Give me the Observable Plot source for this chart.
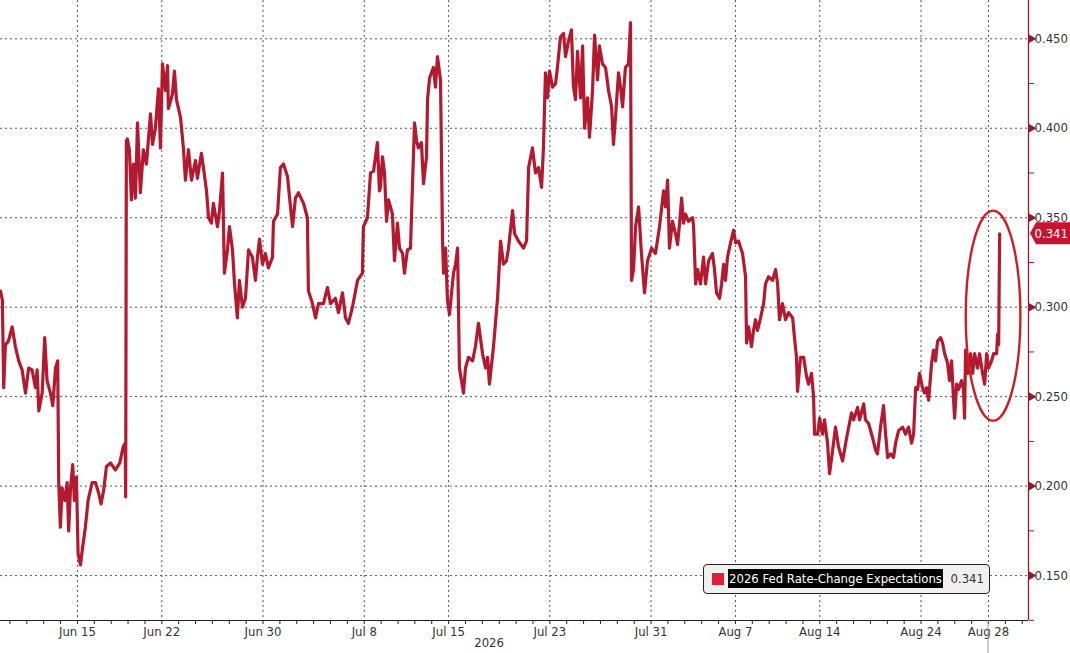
<!DOCTYPE html>
<html><head><meta charset="utf-8">
<script src="https://cdn.jsdelivr.net/npm/d3@7"></script>
<script src="https://cdn.jsdelivr.net/npm/@observablehq/plot@0.6"></script>
<style>
body{margin:0;background:#fff;font-family:"DejaVu Sans Condensed","Liberation Sans",sans-serif}
#wrap{position:relative;width:1070px;height:653px;overflow:hidden}
#legend{position:absolute;left:703px;top:564px;width:287px;height:30px;background:#f0f0f0;border:1px solid #222;border-radius:4px;box-sizing:border-box;font-size:13px;color:#333;font-family:"DejaVu Sans Condensed","Liberation Sans",sans-serif}
#legend .sw{position:absolute;left:8px;top:8px;width:12px;height:12px;background:#e0203a}
#legend .nm{position:absolute;left:24px;top:4px;height:19px;line-height:19px;background:#000;color:#fff;padding:0 1px;white-space:nowrap}
#legend .val{position:absolute;right:5px;top:4px;line-height:19px}
</style></head>
<body><div id="wrap"></div>
<script>
// business-day index (0 = Jun 15, 2026) and value of the 2026 Fed rate-change expectation
const series = [
[-4.56,0.309],[-4.45,0.304],[-4.37,0.255],[-4.27,0.279],[-4.09,0.281],[-3.87,0.289],[-3.68,0.278],[-3.48,0.270],[-3.28,0.265],[-3.08,0.252],
[-2.89,0.266],[-2.69,0.265],[-2.49,0.255],[-2.39,0.265],[-2.29,0.242],[-2.09,0.252],[-1.94,0.283],[-1.80,0.259],[-1.60,0.252],[-1.46,0.245],
[-1.30,0.266],[-1.17,0.270],[-1.11,0.202],[-1.01,0.177],[-0.91,0.199],[-0.75,0.192],[-0.61,0.202],[-0.52,0.175],[-0.41,0.199],[-0.28,0.212],
[-0.18,0.192],[-0.06,0.205],[0.04,0.162],[0.18,0.156],[0.31,0.166],[0.47,0.177],[0.63,0.192],[0.87,0.202],[1.07,0.202],[1.26,0.196],
[1.40,0.190],[1.56,0.198],[1.72,0.211],[1.96,0.213],[2.25,0.209],[2.51,0.213],[2.71,0.222],[2.83,0.224],[2.86,0.194],[2.90,0.393],
[2.96,0.394],[3.08,0.388],[3.20,0.360],[3.32,0.380],[3.44,0.361],[3.56,0.403],[3.73,0.364],[3.91,0.388],[4.09,0.380],[4.33,0.408],
[4.45,0.391],[4.62,0.400],[4.80,0.422],[4.92,0.389],[5.04,0.436],[5.22,0.421],[5.34,0.435],[5.39,0.411],[5.63,0.419],[5.75,0.432],
[5.87,0.416],[6.11,0.406],[6.28,0.389],[6.40,0.371],[6.58,0.388],[6.76,0.371],[7.00,0.382],[7.11,0.372],[7.35,0.386],[7.47,0.378],
[7.65,0.365],[7.77,0.350],[7.94,0.347],[8.06,0.358],[8.30,0.345],[8.42,0.354],[8.60,0.375],[8.71,0.319],[8.89,0.332],[9.01,0.345],
[9.19,0.332],[9.31,0.313],[9.48,0.294],[9.60,0.315],[9.78,0.300],[9.96,0.305],[10.14,0.332],[10.37,0.328],[10.55,0.315],[10.67,0.328],
[10.79,0.338],[10.97,0.324],[11.14,0.330],[11.32,0.322],[11.56,0.328],[11.62,0.348],[11.86,0.352],[12.03,0.378],[12.21,0.380],[12.45,0.373],
[12.63,0.356],[12.75,0.345],[12.92,0.361],[13.10,0.364],[13.40,0.358],[13.63,0.350],[13.69,0.309],[13.93,0.302],[14.11,0.294],[14.29,0.302],
[14.58,0.302],[14.82,0.311],[15.00,0.302],[15.29,0.305],[15.47,0.297],[15.71,0.308],[15.89,0.294],[16.06,0.291],[16.30,0.300],[16.60,0.315],
[16.89,0.319],[16.95,0.345],[17.19,0.350],[17.37,0.375],[17.55,0.376],[17.78,0.392],[17.90,0.365],[17.96,0.367],[18.08,0.384],[18.20,0.375],
[18.32,0.348],[18.44,0.360],[18.67,0.352],[18.79,0.326],[18.97,0.347],[19.09,0.333],[19.27,0.330],[19.38,0.319],[19.56,0.332],[19.74,0.333],
[19.86,0.369],[19.98,0.403],[20.10,0.393],[20.21,0.389],[20.39,0.392],[20.51,0.369],[20.69,0.384],[20.75,0.416],[20.87,0.428],[21.10,0.434],
[21.22,0.423],[21.34,0.440],[21.52,0.427],[21.64,0.337],[21.70,0.319],[21.82,0.333],[21.93,0.304],[22.05,0.296],[22.29,0.319],[22.41,0.324],
[22.53,0.333],[22.64,0.266],[22.88,0.252],[23.00,0.266],[23.18,0.272],[23.42,0.270],[23.59,0.278],[23.77,0.291],[24.01,0.274],[24.19,0.266],
[24.31,0.272],[24.42,0.257],[24.66,0.278],[24.90,0.305],[25.08,0.337],[25.25,0.324],[25.43,0.326],[25.55,0.333],[25.79,0.354],[25.91,0.341],
[26.14,0.337],[26.44,0.333],[26.62,0.337],[26.74,0.378],[26.97,0.389],[27.15,0.375],[27.33,0.378],[27.51,0.367],[27.62,0.389],[27.74,0.431],
[27.86,0.417],[27.98,0.432],[28.16,0.423],[28.34,0.425],[28.45,0.434],[28.63,0.451],[28.81,0.453],[28.93,0.440],[29.11,0.449],[29.28,0.455],
[29.40,0.423],[29.52,0.416],[29.64,0.443],[29.82,0.417],[29.94,0.446],[30.06,0.400],[30.23,0.417],[30.35,0.395],[30.53,0.421],[30.65,0.452],
[30.83,0.427],[30.94,0.446],[31.12,0.436],[31.30,0.434],[31.48,0.421],[31.66,0.412],[31.77,0.391],[31.89,0.406],[32.07,0.431],[32.19,0.423],
[32.31,0.412],[32.48,0.434],[32.66,0.436],[32.78,0.459],[32.84,0.315],[32.96,0.321],[33.08,0.345],[33.26,0.356],[33.43,0.330],[33.61,0.308],
[33.79,0.326],[34.03,0.333],[34.26,0.330],[34.50,0.345],[34.74,0.365],[34.86,0.356],[34.98,0.371],[35.09,0.333],[35.27,0.348],[35.45,0.341],
[35.57,0.335],[35.69,0.347],[35.81,0.361],[35.92,0.347],[36.04,0.352],[36.22,0.348],[36.46,0.350],[36.52,0.345],[36.64,0.313],[36.76,0.321],
[36.93,0.313],[37.11,0.328],[37.23,0.313],[37.41,0.326],[37.64,0.330],[37.76,0.321],[37.88,0.308],[38.06,0.305],[38.18,0.313],[38.30,0.324],
[38.41,0.315],[38.53,0.328],[38.71,0.336],[38.89,0.343],[39.01,0.336],[39.18,0.337],[39.42,0.330],[39.60,0.317],[39.66,0.280],[39.78,0.289],
[39.95,0.278],[40.07,0.287],[40.19,0.293],[40.31,0.287],[40.49,0.294],[40.67,0.302],[40.78,0.313],[40.96,0.317],[41.20,0.315],[41.38,0.321],
[41.50,0.313],[41.61,0.293],[41.79,0.302],[41.97,0.293],[42.15,0.297],[42.39,0.294],[42.50,0.283],[42.62,0.272],[42.68,0.253],[42.86,0.272],
[43.04,0.272],[43.22,0.261],[43.33,0.257],[43.51,0.263],[43.63,0.250],[43.69,0.229],[43.87,0.229],[43.99,0.238],[44.16,0.229],[44.28,0.237],
[44.46,0.224],[44.58,0.207],[44.76,0.220],[44.93,0.233],[45.11,0.222],[45.35,0.214],[45.59,0.227],[45.88,0.241],[46.00,0.237],[46.24,0.244],
[46.36,0.237],[46.60,0.246],[46.71,0.237],[46.89,0.235],[47.13,0.227],[47.31,0.220],[47.42,0.218],[47.60,0.233],[47.78,0.245],[47.90,0.229],
[48.02,0.216],[48.20,0.218],[48.37,0.216],[48.49,0.224],[48.67,0.231],[48.91,0.233],[49.08,0.229],[49.26,0.233],[49.44,0.224],[49.56,0.229],
[49.68,0.255],[49.80,0.254],[49.91,0.263],[50.09,0.255],[50.21,0.252],[50.33,0.255],[50.45,0.248],[50.63,0.269],[50.74,0.276],[50.86,0.270],
[50.98,0.281],[51.16,0.283],[51.28,0.280],[51.40,0.274],[51.57,0.269],[51.69,0.259],[51.81,0.270],[51.93,0.248],[51.99,0.238],[52.11,0.257],
[52.23,0.254],[52.40,0.259],[52.52,0.254],[52.58,0.238],[52.64,0.276],[52.76,0.263],[52.94,0.274],[53.06,0.263],[53.18,0.274],[53.35,0.266],
[53.47,0.274],[53.65,0.263],[53.77,0.257],[53.89,0.274],[54.00,0.266],[54.18,0.270],[54.30,0.274],[54.48,0.274],[54.54,0.285],[54.60,0.279],
[54.66,0.341]
];
const seriesName = "2026 Fed Rate-Change Expectations";
const lastValue = 0.341;
const xTickDays = [0, 5, 11, 17, 22, 28, 34, 39, 44, 50, 54];
const xTickLabels = ["Jun 15","Jun 22","Jun 30","Jul 8","Jul 15","Jul 23","Jul 31","Aug 7","Aug 14","Aug 24","Aug 28"];
const yearLabel = "2026";
const yearLabelDay = 24.4;
const currentDay = 54;
const yTicks = [0.15, 0.20, 0.25, 0.30, 0.35, 0.40, 0.45];
const yMinorTicks = [0.125, 0.175, 0.225, 0.275, 0.325, 0.375, 0.425];
const xDomain = [-4.56, 56.37];
const yDomain = [0.1249, 0.4714];
const highlight = {day: 54.3, value: 0.295, dayRadius: 1.62, valueRadius: 0.0587};

const data = series.map(([t, v]) => ({t, v}));
const minorDays = d3.range(Math.ceil(xDomain[0]), Math.floor(xDomain[1]) + 1);
const lineColor = "#b3192f";
const axisColor = "#8e1c30";
const font = "DejaVu Sans Condensed, Liberation Sans, sans-serif";
const gridStyle = {stroke: "#555", strokeOpacity: 1, strokeWidth: 1, strokeDasharray: "2,3"};

const plot = Plot.plot({
  width: 1070, height: 653,
  marginTop: 0, marginLeft: 0, marginRight: 42, marginBottom: 33,
  style: {fontFamily: font, fontSize: "13px", color: "#333", background: "#fff", overflow: "visible"},
  x: {type: "linear", domain: xDomain, label: null},
  y: {domain: yDomain, label: null},
  marks: [
    Plot.gridY(yTicks, gridStyle),
    Plot.gridX(xTickDays, gridStyle),
    Plot.ruleY([yDomain[0]], {stroke: "#222", strokeWidth: 1}),
    Plot.ruleX([xDomain[1]], {stroke: axisColor, strokeWidth: 1.3}),
    Plot.axisX({ticks: minorDays, tickSize: 4, tickFormat: () => "", stroke: "#222", label: null}),
    Plot.axisX({ticks: xTickDays, tickSize: 0, tickPadding: 6, tickFormat: (d) => xTickLabels[xTickDays.indexOf(d)], fill: "#333", fontSize: 13, label: null}),
    Plot.text([yearLabel], {x: () => yearLabelDay, frameAnchor: "bottom", dy: 26, text: d => d, fill: "#333", fontSize: 13}),
    Plot.axisY({anchor: "right", ticks: yMinorTicks, tickSize: 5, tickFormat: () => "", stroke: axisColor, label: null}),
    Plot.axisY({anchor: "right", ticks: yTicks, tickSize: 0, tickPadding: 6, tickFormat: d3.format(".3f"), fill: "#333", fontSize: 13, label: null}),
    Plot.dot(yTicks, {x: () => xDomain[1], y: d => d, symbol: "triangle", rotate: 90, r: 3.2, fill: axisColor, stroke: "none", dx: 3}),
    Plot.line(data, {x: "t", y: "v", stroke: lineColor, strokeWidth: 3.2, strokeLinejoin: "round"})
  ]
});

const wrap = document.getElementById("wrap");
wrap.appendChild(plot);

const xs = plot.scale("x"), ys = plot.scale("y");
const svg = d3.select(plot);
// current-day marker below the axis
svg.append("line")
  .attr("x1", xs.apply(currentDay)).attr("x2", xs.apply(currentDay))
  .attr("y1", ys.apply(yDomain[0])).attr("y2", 653)
  .attr("stroke", "#999").attr("stroke-width", 1);
// highlight ellipse
svg.append("ellipse")
  .attr("cx", xs.apply(highlight.day))
  .attr("cy", ys.apply(highlight.value))
  .attr("rx", xs.apply(highlight.day + highlight.dayRadius) - xs.apply(highlight.day))
  .attr("ry", ys.apply(highlight.value - highlight.valueRadius) - ys.apply(highlight.value))
  .attr("fill", "none").attr("stroke", "#cc1f24").attr("stroke-width", 2.4);
// last-value tag
const x0 = xs.apply(xDomain[1]) + 2, cy = ys.apply(lastValue);
svg.append("path")
  .attr("d", `M${x0},${cy} L${x0 + 6},${cy - 11} L1070,${cy - 11} L1070,${cy + 11} L${x0 + 6},${cy + 11} Z`)
  .attr("fill", "#c41530");
svg.append("text").attr("x", 1068).attr("y", cy).attr("dy", "0.35em").attr("text-anchor", "end")
  .attr("fill", "#fff").attr("font-size", 13).attr("font-family", font)
  .text(d3.format(".3f")(lastValue));

// legend
const lg = document.createElement("div");
lg.id = "legend";
lg.innerHTML = `<div class="sw"></div><div class="nm"></div><div class="val"></div>`;
lg.querySelector(".nm").textContent = seriesName;
lg.querySelector(".val").textContent = d3.format(".3f")(lastValue);
wrap.appendChild(lg);
</script>
</body></html>
